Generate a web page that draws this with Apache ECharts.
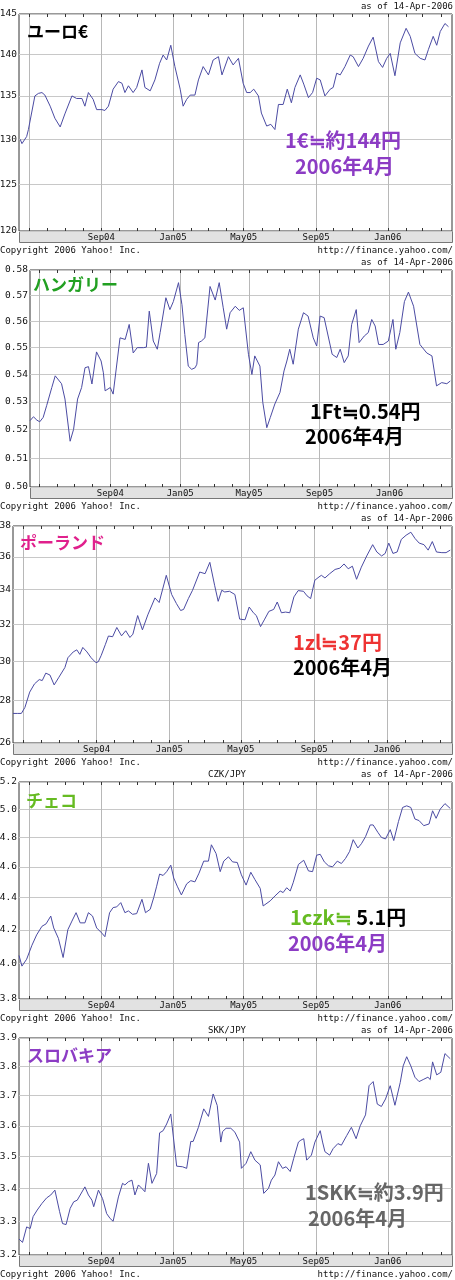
<!DOCTYPE html>
<html><head><meta charset="utf-8">
<script src="https://cdn.jsdelivr.net/npm/echarts@6/dist/echarts.min.js"></script>
<style>html,body{margin:0;padding:0;background:#fff}#c{width:455px;height:1280px}</style>
</head><body><div id="c"></div>
<script>
// x values: days since 2004-04-14; y values: JPY per unit
const eurData = [[2,130.0],[5,129.5],[13,130.3],[16,131.1],[27,135.0],[33,135.3],[39,135.4],[44,135.1],[53,133.8],[61,132.4],[70,131.4],[78,132.9],[90,135.0],[98,134.7],[107,134.7],[112,133.8],[118,135.4],[126,134.6],[132,133.4],[141,133.4],[146,133.3],[152,133.8],[160,135.8],[169,136.7],[175,136.5],[180,135.4],[186,136.2],[194,135.4],[200,136.0],[209,138.1],[214,136.0],[223,135.6],[231,136.9],[239,138.9],[245,139.9],[251,139.3],[258,141.1],[265,138.5],[274,135.8],[279,133.8],[285,134.6],[291,135.1],[299,135.1],[305,136.9],[313,138.5],[322,137.5],[330,139.3],[339,139.7],[345,137.5],[356,139.7],[364,138.7],[373,139.5],[381,136.5],[387,135.4],[393,135.4],[399,135.8],[407,135.0],[412,133.0],[421,131.5],[428,131.7],[435,131.1],[441,134.0],[449,134.0],[456,135.8],[463,134.2],[469,136.0],[478,137.5],[484,136.4],[492,134.8],[499,135.4],[506,137.1],[512,136.9],[520,135.0],[529,135.8],[534,136.0],[540,137.7],[546,137.5],[554,138.5],[563,139.9],[568,139.7],[577,138.5],[585,139.5],[594,141.0],[602,142.1],[611,139.1],[618,138.4],[625,139.5],[631,140.1],[639,137.4],[648,141.4],[658,143.2],[665,142.2],[673,140.1],[682,139.5],[690,139.3],[696,140.6],[704,142.2],[710,141.1],[716,142.8],[724,143.8],[730,143.4]];
const hufData = [[0,0.5232],[6,0.5246],[12,0.5234],[17,0.5228],[23,0.5244],[29,0.5286],[38,0.5352],[44,0.5395],[55,0.5366],[61,0.531],[70,0.5159],[76,0.5201],[83,0.531],[90,0.5352],[96,0.5425],[102,0.5429],[108,0.5365],[116,0.5484],[124,0.545],[128,0.5406],[131,0.534],[140,0.5352],[145,0.5328],[157,0.5537],[166,0.5531],[173,0.5588],[180,0.548],[187,0.55],[198,0.55],[203,0.5502],[208,0.5639],[215,0.5525],[222,0.5494],[227,0.5557],[237,0.5691],[244,0.5645],[250,0.5676],[259,0.575],[265,0.5664],[270,0.555],[276,0.5431],[282,0.5419],[288,0.5425],[291,0.5438],[294,0.5519],[299,0.5525],[305,0.5537],[314,0.5735],[323,0.5682],[330,0.575],[337,0.5652],[343,0.557],[349,0.5633],[358,0.5658],[365,0.5642],[372,0.5652],[381,0.5475],[387,0.54],[392,0.5469],[401,0.5431],[406,0.5298],[413,0.5207],[419,0.5243],[427,0.5292],[436,0.5334],[443,0.5413],[448,0.545],[453,0.5494],[459,0.5438],[468,0.557],[477,0.5633],[485,0.562],[494,0.5537],[500,0.5506],[506,0.562],[513,0.5614],[520,0.5544],[527,0.5475],[535,0.5463],[541,0.5494],[548,0.5444],[555,0.5469],[561,0.5588],[569,0.5645],[574,0.5519],[583,0.5544],[590,0.5557],[596,0.5607],[602,0.5582],[608,0.5512],[616,0.5512],[625,0.5525],[633,0.5607],[638,0.5494],[645,0.5557],[653,0.5676],[660,0.5713],[669,0.5658],[680,0.5512],[692,0.548],[701,0.5469],[704,0.5469],[709,0.5358],[718,0.537],[727,0.5366],[733,0.5376]];
const plnData = [[0,27.38],[8,27.38],[14,27.38],[20,27.67],[28,28.42],[36,28.83],[44,29.05],[49,29.0],[55,29.38],[62,29.28],[69,28.78],[77,29.17],[87,29.67],[92,30.18],[101,30.49],[107,30.6],[112,30.36],[117,30.73],[124,30.49],[131,30.18],[139,29.92],[143,29.97],[148,30.31],[155,30.9],[160,31.35],[167,31.31],[174,31.82],[182,31.36],[189,31.64],[196,31.27],[201,31.45],[209,32.49],[217,31.69],[226,32.53],[238,33.51],[245,33.24],[257,34.86],[266,33.71],[274,33.18],[281,32.78],[286,32.84],[294,33.47],[301,33.96],[313,35.06],[322,34.96],[330,35.66],[338,34.26],[344,33.31],[350,33.96],[355,33.86],[363,33.9],[372,33.71],[380,32.29],[389,32.25],[396,32.98],[403,32.65],[408,32.49],[415,31.87],[422,32.29],[429,32.73],[437,32.84],[443,33.27],[450,32.65],[457,32.69],[464,32.65],[471,33.57],[478,33.94],[487,33.9],[493,33.63],[499,33.47],[506,34.56],[513,34.76],[517,34.86],[523,34.7],[531,34.96],[540,35.22],[548,35.3],[555,35.56],[562,35.26],[569,35.42],[576,34.62],[584,35.36],[593,36.06],[603,36.78],[610,36.31],[618,36.06],[624,36.22],[630,36.88],[637,36.22],[644,36.31],[651,37.12],[659,37.39],[667,37.59],[674,37.18],[681,36.88],[689,36.78],[696,36.43],[703,36.98],[710,36.31],[719,36.27],[726,36.27],[733,36.43]];
const czkData = [[0,4.047],[5,3.985],[13,4.025],[22,4.107],[30,4.169],[39,4.221],[46,4.236],[54,4.284],[59,4.211],[67,4.148],[75,4.035],[83,4.2],[90,4.253],[97,4.305],[104,4.242],[112,4.242],[118,4.305],[125,4.284],[132,4.211],[141,4.179],[146,4.158],[154,4.305],[160,4.337],[166,4.341],[173,4.368],[180,4.305],[186,4.316],[193,4.295],[200,4.299],[209,4.389],[215,4.305],[223,4.326],[229,4.4],[234,4.473],[239,4.552],[245,4.543],[251,4.568],[258,4.611],[263,4.526],[269,4.473],[276,4.417],[285,4.488],[292,4.509],[299,4.501],[306,4.558],[314,4.638],[322,4.638],[327,4.749],[335,4.689],[342,4.568],[348,4.638],[356,4.667],[363,4.633],[371,4.629],[378,4.547],[386,4.48],[394,4.564],[401,4.516],[410,4.459],[415,4.347],[427,4.379],[435,4.41],[444,4.442],[449,4.432],[455,4.463],[461,4.442],[466,4.495],[475,4.616],[484,4.644],[492,4.573],[499,4.568],[506,4.678],[512,4.684],[519,4.633],[526,4.607],[533,4.6],[541,4.638],[548,4.622],[555,4.656],[562,4.704],[568,4.784],[576,4.727],[582,4.756],[589,4.805],[597,4.887],[602,4.887],[610,4.835],[616,4.8],[623,4.789],[631,4.854],[637,4.778],[645,4.911],[652,5.012],[659,5.024],[666,5.012],[673,4.929],[680,4.918],[688,4.882],[697,4.894],[703,4.988],[709,4.934],[716,5.0],[724,5.04],[733,5.005]];
const skkData = [[0,3.247],[6,3.237],[13,3.283],[19,3.278],[24,3.314],[31,3.334],[39,3.354],[47,3.371],[54,3.38],[61,3.395],[69,3.329],[74,3.293],[80,3.29],[87,3.339],[93,3.359],[99,3.364],[112,3.405],[118,3.38],[124,3.364],[127,3.344],[135,3.395],[142,3.369],[149,3.323],[155,3.308],[160,3.3],[169,3.374],[176,3.416],[180,3.411],[186,3.421],[192,3.426],[197,3.38],[203,3.411],[209,3.4],[214,3.39],[220,3.479],[226,3.416],[234,3.447],[239,3.577],[245,3.584],[251,3.606],[258,3.639],[268,3.47],[278,3.468],[285,3.463],[292,3.549],[296,3.549],[305,3.595],[314,3.656],[322,3.631],[330,3.706],[337,3.667],[343,3.547],[346,3.581],[352,3.592],[360,3.592],[367,3.579],[375,3.547],[378,3.463],[386,3.479],[394,3.516],[401,3.489],[410,3.474],[416,3.385],[424,3.4],[429,3.426],[435,3.442],[441,3.484],[448,3.463],[454,3.468],[461,3.453],[467,3.495],[475,3.547],[479,3.553],[484,3.558],[489,3.489],[497,3.505],[503,3.547],[512,3.584],[516,3.547],[520,3.516],[528,3.505],[534,3.526],[542,3.542],[548,3.537],[557,3.568],[565,3.595],[573,3.558],[580,3.6],[589,3.636],[595,3.734],[602,3.748],[609,3.672],[616,3.664],[623,3.689],[631,3.734],[639,3.668],[648,3.745],[653,3.802],[659,3.834],[666,3.802],[673,3.763],[680,3.748],[687,3.755],[695,3.763],[699,3.755],[703,3.816],[710,3.771],[717,3.78],[724,3.845],[733,3.827]];

const eurTicks = [120,125,130,135,140,145];
const hufTicks = [0.50,0.51,0.52,0.53,0.54,0.55,0.56,0.57,0.58];
const plnTicks = [26,28,30,32,34,36,38];
const czkTicks = [3.8,4.0,4.2,4.4,4.6,4.8,5.0,5.2];
const skkTicks = [3.2,3.3,3.4,3.5,3.6,3.7,3.8,3.9];
const monthNames = ['Jan','Feb','Mar','Apr','May','Jun','Jul','Aug','Sep','Oct','Nov','Dec'];

const START = Date.UTC(2004, 3, 14), DAY = 86400000, X_MAX = 736;
const dayOf = (y, m, d) => (Date.UTC(y, m, d) - START) / DAY;
const monthTicks = [];
for (let k = 0; k < 24; k++) monthTicks.push(dayOf(2004, 4 + k, 1));
const majorTicks = monthTicks.filter((_, k) => k % 4 === 0);
const labelTicks = majorTicks.slice(1);
const fmtX = v => { const d = new Date(START + Math.round(v) * DAY); return monthNames[d.getUTCMonth()] + String(d.getUTCFullYear()).slice(2); };

const MONO = '"DejaVu Sans Mono", "Liberation Mono", monospace';
const JP = '"Noto Sans CJK JP", "Noto Sans", sans-serif';

const panels = [
  { data: eurData, ticks: eurTicks, dec: 0, left: 19, title: '' },
  { data: hufData, ticks: hufTicks, dec: 2, left: 30, title: '' },
  { data: plnData, ticks: plnTicks, dec: 0, left: 13, title: '' },
  { data: czkData, ticks: czkTicks, dec: 1, left: 19, title: 'CZK/JPY' },
  { data: skkData, ticks: skkTicks, dec: 1, left: 19, title: 'SKK/JPY' }
];

const grid = [], xAxis = [], yAxis = [], series = [], graphic = [];
const RIGHT = 452, H = 217;
panels.forEach((p, i) => {
  const o = 256 * i, top = o + 14;
  grid.push({ left: p.left, width: RIGHT - p.left, top: top, height: H, show: true, borderColor: '#333', borderWidth: 1, backgroundColor: '#fff', containLabel: false, outerBoundsMode: 'none' });
  const lt = p.ticks.map(Math.log10);
  yAxis.push({ gridIndex: i, type: 'value', min: lt[0], max: lt[lt.length - 1],
    axisLine: { show: false }, axisTick: { show: false, customValues: lt },
    splitLine: { show: true, lineStyle: { color: '#c8c8c8', width: 1 } },
    axisLabel: { customValues: lt, formatter: v => Math.pow(10, v).toFixed(p.dec), margin: 2, fontFamily: MONO, fontSize: 9.5, color: '#111' } });
  xAxis.push({ gridIndex: i, type: 'value', min: 0, max: X_MAX, position: 'bottom',
    axisLine: { show: false }, splitLine: { show: false },
    axisTick: { show: true, inside: true, length: 3, customValues: monthTicks, lineStyle: { color: '#333' } },
    axisLabel: { customValues: labelTicks, formatter: fmtX, margin: 2, fontFamily: MONO, fontSize: 9, color: '#111' } });
  xAxis.push({ gridIndex: i, type: 'value', min: 0, max: X_MAX, position: 'top',
    axisLine: { show: false }, splitLine: { show: false }, axisLabel: { show: false },
    axisTick: { show: true, inside: true, length: 3, customValues: monthTicks, lineStyle: { color: '#333' } } });
  xAxis.push({ gridIndex: i, type: 'value', min: 0, max: X_MAX, position: 'bottom',
    axisLine: { show: false }, axisLabel: { show: false },
    axisTick: { show: false, customValues: majorTicks },
    splitLine: { show: true, lineStyle: { color: '#b8b8b8', width: 1 } } });
  series.push({ type: 'line', xAxisIndex: 3 * i, yAxisIndex: i, symbol: 'none', silent: true,
    data: p.data.map(([d, v]) => [d, Math.log10(v)]),
    lineStyle: { color: '#4b4ba3', width: 1 } });
  graphic.push({ type: 'rect', z: -1, shape: { x: p.left + 0.5, y: top + H + 0.5, width: RIGHT - p.left, height: 11 }, style: { fill: '#e2e2e2', stroke: '#777', lineWidth: 1 } });
  graphic.push({ type: 'text', x: 453, y: o + 6.5, style: { text: 'as of 14-Apr-2006', align: 'right', verticalAlign: 'middle', font: '9px ' + MONO, fill: '#111' } });
  if (p.title) graphic.push({ type: 'text', x: 227, y: o + 6.5, style: { text: p.title, align: 'center', verticalAlign: 'middle', font: '9px ' + MONO, fill: '#111' } });
  graphic.push({ type: 'text', x: 0, y: o + 250.5, style: { text: 'Copyright 2006 Yahoo! Inc.', align: 'left', verticalAlign: 'middle', font: '9px ' + MONO, fill: '#111' } });
  graphic.push({ type: 'text', x: 453, y: o + 250.5, style: { text: 'http://finance.yahoo.com/', align: 'right', verticalAlign: 'middle', font: '9px ' + MONO, fill: '#111' } });
});

const PURPLE = '#8c3cc4';
const jt = (text, x, y, size, color) => ({ type: 'text', x: x, y: y, z: 10, style: { text: text, align: 'left', verticalAlign: 'middle', font: 'bold ' + size + 'px ' + JP, fill: color } });
graphic.push(jt('ユーロ€', 27, 32, 17, '#000'));
graphic.push(jt('1€≒約144円', 285, 140, 20, PURPLE));
graphic.push(jt('2006年4月', 295, 166, 20, PURPLE));
graphic.push(jt('ハンガリー', 33, 285, 17, '#22a022'));
graphic.push(jt('1Ft≒0.54円', 310, 411, 20, '#000'));
graphic.push(jt('2006年4月', 305, 436, 20, '#000'));
graphic.push(jt('ポーランド', 20, 543, 17, '#e0208c'));
graphic.push(jt('1zl≒37円', 293, 642, 20, '#ee3333'));
graphic.push(jt('2006年4月', 293, 667, 20, '#000'));
graphic.push(jt('チェコ', 26, 801, 17, '#66bb22'));
graphic.push({ type: 'text', x: 290, y: 917, z: 10, style: { text: '{g|1czk≒} {k|5.1円}', align: 'left', verticalAlign: 'middle', font: 'bold 20px ' + JP,
  rich: { g: { fill: '#66bb22', font: 'bold 20px ' + JP }, k: { fill: '#000', font: 'bold 20px ' + JP } } } });
graphic.push(jt('2006年4月', 288, 943, 20, PURPLE));
graphic.push(jt('スロバキア', 27, 1056, 17, PURPLE));
graphic.push(jt('1SKK≒約3.9円', 305, 1192, 20, '#666'));
graphic.push(jt('2006年4月', 308, 1218, 20, '#666'));

const chart = echarts.init(document.getElementById('c'), null, { renderer: 'canvas' });
chart.setOption({ animation: false, backgroundColor: '#fff', grid, xAxis, yAxis, series, graphic });
</script></body></html>
